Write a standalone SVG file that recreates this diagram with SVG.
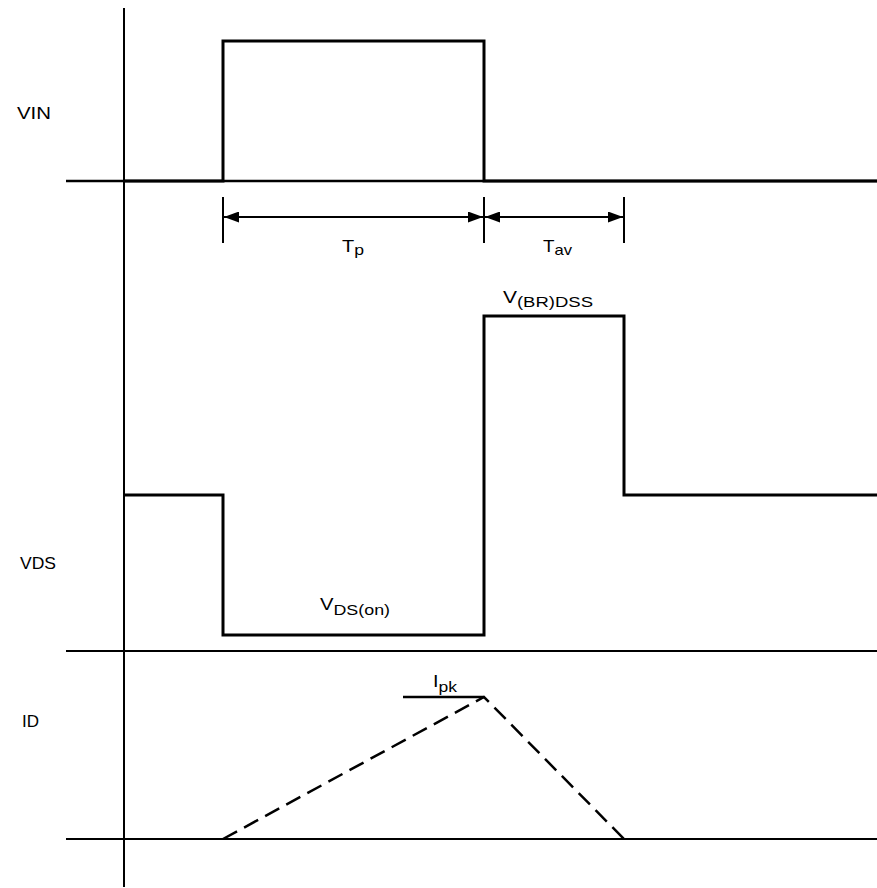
<svg xmlns="http://www.w3.org/2000/svg" width="877" height="888" viewBox="0 0 877 888">
<style>
.ax{stroke:#000;stroke-width:2;fill:none}
.wf{stroke:#000;stroke-width:3;fill:none}
.dim{stroke:#000;stroke-width:2;fill:none}
.ds{stroke:#000;stroke-width:2.5;fill:none;stroke-dasharray:16,8}
text{font-family:"Liberation Sans",Arial,sans-serif;font-size:17px;fill:#000}
.sub{font-size:15px}
</style>
<defs>
<marker id="ah" viewBox="0 0 15 11" refX="15" refY="5.5" markerWidth="15" markerHeight="11" orient="auto-start-reverse" markerUnits="userSpaceOnUse">
<path d="M0,0 L15,5.5 L0,11 z" fill="#000"/>
</marker>
</defs>
<rect width="877" height="888" fill="#fff"/>
<g id="axes">
<line class="ax" x1="124" y1="8" x2="124" y2="887"/>
<line class="ax" x1="66" y1="181" x2="877" y2="181" style="stroke-width:2.5"/>
<line class="ax" x1="66" y1="651" x2="877" y2="651"/>
<line class="ax" x1="66" y1="839" x2="877" y2="839"/>
</g>
<g id="vin">
<polyline class="wf" points="124,181 223,181 223,41 484,41 484,181 877,181"/>
<text x="17" y="119" textLength="34" lengthAdjust="spacingAndGlyphs">VIN</text>
</g>
<g id="dimensions">
<line class="dim" x1="223" y1="197" x2="223" y2="243"/>
<line class="dim" x1="484" y1="197" x2="484" y2="243"/>
<line class="dim" x1="624" y1="197" x2="624" y2="243"/>
<line class="dim" x1="224" y1="217" x2="483" y2="217" marker-start="url(#ah)" marker-end="url(#ah)"/>
<line class="dim" x1="485" y1="217" x2="623" y2="217" marker-start="url(#ah)" marker-end="url(#ah)"/>
<text x="342" y="252" textLength="22" lengthAdjust="spacingAndGlyphs">T<tspan class="sub" dy="3">p</tspan></text>
<text x="543" y="252" textLength="29" lengthAdjust="spacingAndGlyphs">T<tspan class="sub" dy="3">av</tspan></text>
</g>
<g id="vds">
<polyline class="wf" points="124,495 223,495 223,635 484,635 484,316 624,316 624,495 877,495"/>
<text x="20" y="569" textLength="36" lengthAdjust="spacingAndGlyphs">VDS</text>
<text x="503" y="303" textLength="90" lengthAdjust="spacingAndGlyphs">V<tspan class="sub" dy="4">(BR)DSS</tspan></text>
<text x="320" y="610" textLength="70" lengthAdjust="spacingAndGlyphs">V<tspan class="sub" dy="5">DS(on)</tspan></text>
</g>
<g id="id">
<polyline class="ds" points="223,839 484,697 624,839"/>
<line class="wf" x1="403" y1="697" x2="484" y2="697" style="stroke-width:2.5"/>
<text x="433" y="687" textLength="24" lengthAdjust="spacingAndGlyphs">I<tspan class="sub" dy="5">pk</tspan></text>
<text x="22" y="727" textLength="17" lengthAdjust="spacingAndGlyphs">ID</text>
</g>
</svg>
